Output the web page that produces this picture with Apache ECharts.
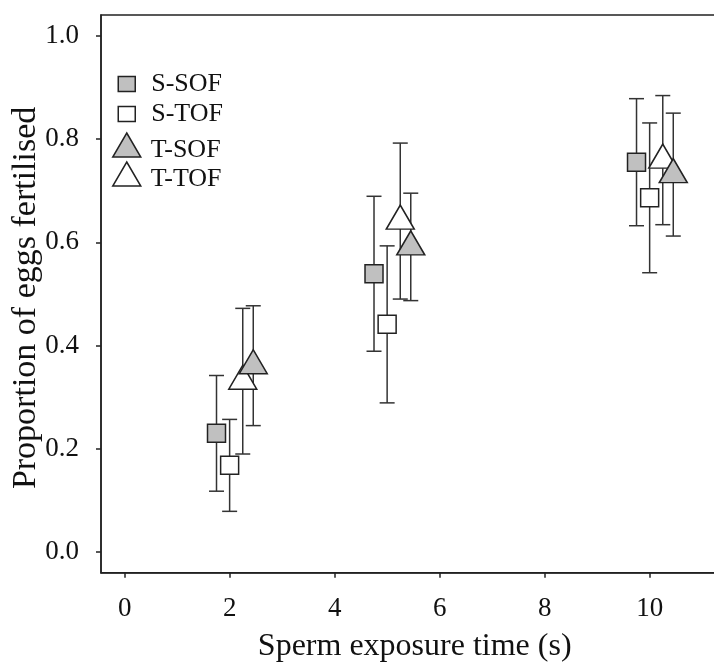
<!DOCTYPE html>
<html>
<head>
<meta charset="utf-8">
<script src="https://cdn.jsdelivr.net/npm/echarts@6/dist/echarts.min.js"></script>
<style>
  html, body { margin: 0; padding: 0; background: #fff; }
  #chart { width: 714px; height: 666px; }
</style>
</head>
<body>
<div id="chart"></div>
<script>
// Axis ticks
const xTicks = [0, 2, 4, 6, 8, 10];
const yTicks = [0, 0.2, 0.4, 0.6, 0.8, 1.0];

// Sperm exposure time (s), slightly dodged per treatment
const xSSOF = [1.75, 4.75, 9.75];
const xSTOF = [2.0, 5.0, 10.0];
const xTTOF = [2.25, 5.25, 10.25];
const xTSOF = [2.45, 5.45, 10.45];

// Proportion of eggs fertilised (mean) and error half-widths
const meanSSOF = [0.230, 0.539, 0.755];
const errSSOF  = [0.112, 0.150, 0.123];
const meanSTOF = [0.168, 0.441, 0.686];
const errSTOF  = [0.089, 0.152, 0.145];
const meanTTOF = [0.331, 0.641, 0.759];
const errTTOF  = [0.141, 0.151, 0.125];
const meanTSOF = [0.361, 0.591, 0.731];
const errTSOF  = [0.116, 0.104, 0.119];

const FONT = '"Liberation Serif", "Times New Roman", serif';
const INK = '#111';
const GREY = '#c0c0c0';

function rows(xs, ms, es) {
  return xs.map((x, i) => [x, ms[i], es[i]]);
}

function renderErrorBar(params, api) {
  const x = api.value(0), m = api.value(1), e = api.value(2);
  const hi = api.coord([x, m + e]);
  const lo = api.coord([x, m - e]);
  const cap = 7.5;
  const style = { stroke: '#333', lineWidth: 1.5 };
  return {
    type: 'group',
    children: [
      { type: 'line', shape: { x1: hi[0], y1: hi[1], x2: lo[0], y2: lo[1] }, style },
      { type: 'line', shape: { x1: hi[0] - cap, y1: hi[1], x2: hi[0] + cap, y2: hi[1] }, style },
      { type: 'line', shape: { x1: lo[0] - cap, y1: lo[1], x2: lo[0] + cap, y2: lo[1] }, style }
    ]
  };
}

const groups = [
  { name: 'S-SOF', xs: xSSOF, ms: meanSSOF, es: errSSOF, symbol: 'rect', size: 18, fill: GREY },
  { name: 'S-TOF', xs: xSTOF, ms: meanSTOF, es: errSTOF, symbol: 'rect', size: 18, fill: '#fff' },
  { name: 'T-TOF', xs: xTTOF, ms: meanTTOF, es: errTTOF, symbol: 'triangle', size: [28, 24], fill: '#fff' },
  { name: 'T-SOF', xs: xTSOF, ms: meanTSOF, es: errTSOF, symbol: 'triangle', size: [28, 24], fill: GREY }
];

const series = [];
groups.forEach(g => {
  const data = rows(g.xs, g.ms, g.es);
  series.push({
    name: g.name + ' error',
    type: 'custom',
    renderItem: renderErrorBar,
    encode: { x: 0, y: 1 },
    data: data,
    silent: true
  });
  series.push({
    name: g.name,
    type: 'scatter',
    symbol: g.symbol,
    symbolSize: g.size,
    // triangles are centred on their centroid
    symbolOffset: g.symbol === 'triangle' ? [0, -4] : [0, 0],
    itemStyle: { color: g.fill, borderColor: '#222', borderWidth: 1.5, opacity: 1 },
    emphasis: { disabled: true },
    data: data.map(d => [d[0], d[1]])
  });
});

// One legend block per entry so squares and triangles keep their own sizes
function legendEntry(name, icon, w, h, top, fill, padLeft, padTop) {
  return {
    show: true,
    data: [{ name: name, icon: icon }],
    left: 126 - w / 2,
    top: top,
    padding: 0,
    itemWidth: w,
    itemHeight: h,
    selectedMode: false,
    itemStyle: { color: fill, borderColor: '#222', borderWidth: 1.5 },
    formatter: '{t|{name}}',
    textStyle: {
      fontFamily: FONT, fontSize: 26, color: INK,
      rich: {
        t: { fontFamily: FONT, fontSize: 26, color: INK, lineHeight: 26, padding: [padTop, 0, 0, padLeft] }
      }
    }
  };
}

const option = {
  backgroundColor: '#fff',
  animation: false,
  legend: [
    legendEntry('S-SOF', 'rect', 17, 15, 71, GREY, 11, 0),
    legendEntry('S-TOF', 'rect', 17, 15, 101, '#fff', 11, 0),
    legendEntry('T-SOF', 'triangle', 28, 24, 127, GREY, 5, 10),
    legendEntry('T-TOF', 'triangle', 28, 24, 156, '#fff', 5, 10)
  ],
  grid: {
    left: 101,
    top: 15,
    right: -14.4,
    bottom: 93.2,
    show: true,
    borderColor: '#222',
    borderWidth: 1.5,
    backgroundColor: 'transparent',
    outerBoundsMode: 'none'
  },
  xAxis: {
    type: 'value',
    min: -0.45,
    max: 11.5,
    name: 'Sperm exposure time (s)',
    nameLocation: 'middle',
    nameGap: 58,
    nameMoveOverlap: false,
    nameTextStyle: { fontFamily: FONT, fontSize: 32, color: INK },
    axisLine: { show: true, onZero: false, lineStyle: { color: '#222', width: 1.5 } },
    axisTick: { show: true, customValues: xTicks, length: 5, lineStyle: { color: '#222', width: 1.5 } },
    axisLabel: {
      customValues: xTicks,
      margin: 23,
      fontFamily: FONT, fontSize: 27, color: INK
    },
    splitLine: { show: false }
  },
  yAxis: {
    type: 'value',
    min: -0.04,
    max: 1.04,
    name: 'Proportion of eggs fertilised',
    nameLocation: 'middle',
    nameGap: 58,
    nameMoveOverlap: false,
    nameTextStyle: { fontFamily: FONT, fontSize: 34, color: INK, padding: [0, 8, 0, 0] },
    axisLine: { show: true, onZero: false, lineStyle: { color: '#222', width: 1.5 } },
    axisTick: { show: true, customValues: yTicks, length: 5, lineStyle: { color: '#222', width: 1.5 } },
    axisLabel: {
      customValues: yTicks,
      margin: 22,
      formatter: v => v.toFixed(1),
      fontFamily: FONT, fontSize: 27, color: INK
    },
    splitLine: { show: false }
  },
  series: series
};

const chart = echarts.init(document.getElementById('chart'), null, { renderer: 'canvas' });
chart.setOption(option);
</script>
</body>
</html>
